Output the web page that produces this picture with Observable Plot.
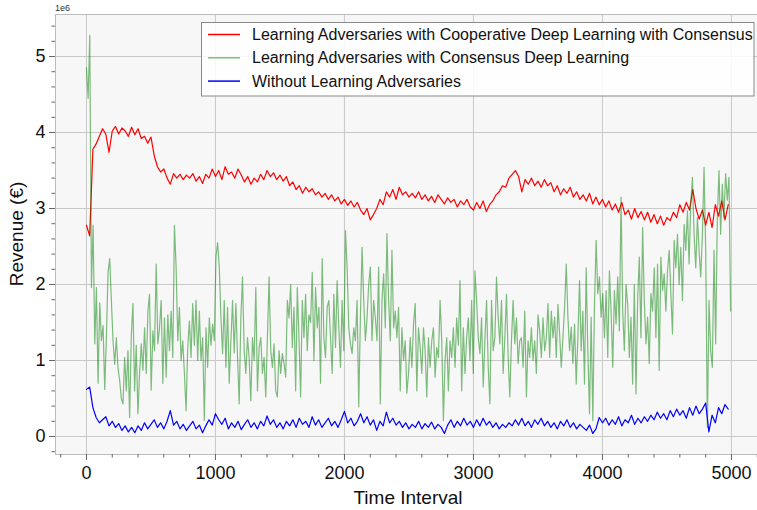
<!DOCTYPE html>
<html>
<head>
<meta charset="utf-8">
<script src="https://cdn.jsdelivr.net/npm/d3@7"></script>
<script src="https://cdn.jsdelivr.net/npm/@observablehq/plot@0.6"></script>
<style>
  html, body { margin: 0; padding: 0; background: white; }
  #chart { width: 757px; height: 510px; }
</style>
</head>
<body>
<div id="chart"></div>
<script>
// Series names (legend order)
const seriesNames = [
  "Learning Adversaries with Cooperative Deep Learning with Consensus",
  "Learning Adversaries with Consensus Deep Learning",
  "Without Learning Adversaries"
];
const seriesColors = ["#ff0000", "#008000", "#0000ff"];

// Time steps for red and blue: every 25 intervals
const stepRB = 25;
// Green is read more densely
const stepG = 12.87;

// Revenue, in units of 1e6 €
const redValues = [
  2.78, 2.64, 3.78, 3.85, 3.95, 4.05, 3.98, 3.74, 4.02, 4.08, 3.98, 4.06, 4.02, 3.95, 4.07, 3.97, 4.05, 3.92, 3.95, 3.86,
  3.94, 3.70, 3.55, 3.48, 3.52, 3.40, 3.32, 3.46, 3.40, 3.45, 3.38, 3.44, 3.40, 3.46, 3.36, 3.42, 3.33, 3.45, 3.40, 3.52,
  3.42, 3.50, 3.38, 3.55, 3.45, 3.48, 3.40, 3.52, 3.44, 3.35, 3.42, 3.32, 3.40, 3.35, 3.45, 3.38, 3.50, 3.42, 3.47, 3.38,
  3.44, 3.36, 3.42, 3.30, 3.35, 3.25, 3.30, 3.20, 3.28, 3.22, 3.26, 3.18, 3.22, 3.15, 3.20, 3.12, 3.18, 3.10, 3.15, 3.06,
  3.12, 3.04, 3.10, 3.02, 3.08, 2.98, 2.92, 3.00, 2.85, 2.92, 3.00, 3.12, 3.05, 3.22, 3.15, 3.25, 3.12, 3.28, 3.18, 3.22,
  3.15, 3.20, 3.14, 3.22, 3.12, 3.18, 3.10, 3.16, 3.08, 3.18, 3.12, 3.06, 3.14, 3.08, 3.12, 3.02, 3.10, 3.05, 3.12, 3.02,
  2.98, 3.08, 3.00, 3.10, 2.96, 3.05, 3.10, 3.18, 3.22, 3.30, 3.28, 3.40, 3.45, 3.50, 3.42, 3.22, 3.38, 3.32, 3.40, 3.30,
  3.36, 3.28, 3.38, 3.30, 3.34, 3.22, 3.30, 3.18, 3.26, 3.20, 3.28, 3.15, 3.22, 3.12, 3.18, 3.10, 3.20, 3.06, 3.15, 3.05,
  3.12, 3.02, 3.10, 2.98, 3.06, 2.95, 3.08, 2.92, 2.98, 2.86, 3.00, 2.88, 2.96, 2.85, 2.95, 2.82, 2.92, 2.80, 2.90, 2.78,
  2.88, 2.84, 2.95, 2.88, 3.05, 2.95, 3.08, 2.98, 3.25, 3.00, 2.86, 2.98, 2.78, 2.95, 2.75, 3.05, 2.90, 3.10, 2.85, 3.05
];

const blueValues = [
  0.62, 0.65, 0.38, 0.25, 0.18, 0.22, 0.26, 0.14, 0.20, 0.12, 0.17, 0.08, 0.14, 0.06, 0.12, 0.05, 0.14, 0.08, 0.18, 0.10,
  0.16, 0.22, 0.12, 0.18, 0.10, 0.20, 0.34, 0.15, 0.20, 0.10, 0.16, 0.08, 0.14, 0.20, 0.10, 0.15, 0.05, 0.14, 0.22, 0.15,
  0.30, 0.22, 0.16, 0.24, 0.10, 0.18, 0.12, 0.20, 0.09, 0.16, 0.22, 0.12, 0.18, 0.10, 0.20, 0.14, 0.27, 0.16, 0.22, 0.12,
  0.18, 0.10, 0.20, 0.14, 0.22, 0.12, 0.24, 0.16, 0.20, 0.12, 0.26, 0.15, 0.22, 0.12, 0.18, 0.24, 0.14, 0.20, 0.12, 0.22,
  0.33, 0.18, 0.24, 0.14, 0.20, 0.30, 0.18, 0.26, 0.15, 0.22, 0.08, 0.20, 0.14, 0.32, 0.18, 0.24, 0.15, 0.20, 0.12, 0.18,
  0.10, 0.16, 0.12, 0.20, 0.10, 0.17, 0.12, 0.19, 0.10, 0.16, 0.12, 0.04, 0.15, 0.22, 0.12, 0.20, 0.14, 0.24, 0.15, 0.20,
  0.12, 0.22, 0.14, 0.24, 0.15, 0.20, 0.12, 0.18, 0.10, 0.16, 0.12, 0.18, 0.14, 0.22, 0.15, 0.24, 0.14, 0.20, 0.12, 0.22,
  0.16, 0.24, 0.14, 0.20, 0.12, 0.18, 0.10, 0.20, 0.14, 0.22, 0.12, 0.18, 0.10, 0.16, 0.12, 0.08, 0.15, 0.04, 0.10, 0.25,
  0.18, 0.24, 0.15, 0.22, 0.16, 0.26, 0.14, 0.22, 0.18, 0.28, 0.16, 0.24, 0.18, 0.26, 0.20, 0.28, 0.22, 0.32, 0.24, 0.30,
  0.22, 0.34, 0.26, 0.36, 0.28, 0.34, 0.24, 0.38, 0.28, 0.40, 0.30, 0.36, 0.44, 0.06, 0.28, 0.18, 0.38, 0.30, 0.42, 0.36
];

const greenValues = [
  4.85, 4.45, 5.28, 1.96, 2.78, 1.22, 1.96, 0.70, 1.76, 1.26,
  1.46, 0.62, 1.30, 2.16, 2.34, 1.79, 1.26, 0.95, 1.30, 0.90,
  0.74, 0.50, 0.43, 1.04, 0.60, 1.13, 0.25, 1.32, 1.75, 0.60,
  1.20, 0.30, 0.83, 1.22, 0.87, 1.43, 0.83, 1.65, 1.87, 0.61,
  1.39, 1.13, 2.27, 1.22, 1.43, 1.79, 0.70, 1.56, 0.78, 1.60,
  1.13, 1.65, 1.04, 2.78, 2.23, 1.26, 1.70, 1.00, 1.26, 0.83,
  0.34, 1.17, 1.52, 1.04, 1.75, 1.20, 1.79, 1.00, 1.65, 1.00,
  1.30, 0.21, 1.43, 0.91, 1.56, 1.20, 1.48, 1.26, 2.36, 2.55,
  2.23, 1.56, 1.09, 1.79, 0.91, 1.70, 0.70, 1.26, 1.79, 1.10,
  1.75, 1.04, 0.43, 1.56, 2.10, 1.13, 0.83, 1.30, 1.04, 0.47,
  1.30, 1.00, 1.96, 0.60, 1.17, 1.30, 0.83, 1.04, 0.52, 1.30,
  2.10, 1.13, 0.91, 1.22, 0.60, 0.52, 1.13, 0.83, 1.09, 0.96,
  0.78, 1.79, 1.56, 2.00, 1.17, 1.70, 0.60, 1.96, 1.30, 0.52,
  1.79, 1.30, 1.87, 1.13, 1.60,
  1.50, 2.16, 1.00, 1.96, 1.43, 1.70, 0.70, 2.34, 1.30, 1.04,
  1.70, 1.79, 1.30, 0.83, 1.87, 1.17, 2.05, 1.43, 0.91, 1.79,
  1.13, 2.71, 2.23, 1.43, 1.22, 1.09, 1.43, 1.26, 1.79, 0.39,
  1.56, 2.49, 1.79, 1.26, 1.56, 2.00, 2.23, 1.26, 1.79, 1.56,
  1.26, 2.23, 0.43, 1.79, 2.14, 1.43, 2.67, 1.79, 1.26, 2.45,
  1.43, 1.65, 1.30, 1.70, 0.60, 1.43, 1.00, 1.26, 0.57, 0.83,
  1.30, 0.91, 1.48, 1.75, 0.60, 1.43, 1.17, 0.83, 1.43, 1.13,
  0.52, 1.30, 0.91, 1.26, 1.43, 0.78, 1.17, 1.04, 1.79, 1.26,
  0.21, 1.00, 1.30, 0.60, 1.26, 1.04, 1.43, 0.91, 1.56, 1.20,
  2.05, 0.60, 1.43, 0.83, 1.30, 1.56, 1.00, 1.79, 0.83, 2.18,
  1.79, 1.30, 1.09, 1.56, 0.65, 1.26, 1.79, 0.91, 0.43, 1.79,
  1.13, 1.30, 2.10, 1.56, 1.22, 1.79, 0.83, 1.30, 1.87, 1.04,
  0.52, 1.26, 1.79, 1.22, 1.56, 0.96, 1.26, 1.30, 0.91, 1.65,
  0.52, 1.26, 1.04, 1.43, 1.00, 1.26, 0.83, 1.60, 1.39, 1.04,
  1.56, 1.13, 1.30, 1.75,
  1.04, 1.65, 1.30, 1.57, 1.04, 1.74, 1.35, 0.91, 1.30, 1.70,
  2.27, 1.57, 1.13, 1.44, 0.96, 1.48, 0.69, 1.30, 2.05, 1.13,
  1.65, 0.69, 2.22, 1.13, 0.30, 1.57, 0.21, 1.74, 2.58, 1.88,
  2.10, 1.57, 1.88, 1.30, 1.92, 1.04, 2.18, 1.65, 0.91, 1.92,
  1.48, 2.10, 1.39, 3.15, 1.65, 1.13, 2.00, 1.74, 1.04, 1.57,
  0.69, 2.00, 0.56, 1.79, 2.36, 1.30, 2.75, 1.79, 1.22, 1.57,
  0.96, 1.88, 1.65, 2.22, 1.30, 2.27, 0.87, 2.36, 1.92, 2.14,
  1.65, 2.18, 2.45, 1.88, 1.35, 2.58, 2.22, 2.66, 2.00, 2.49,
  1.79, 2.79, 2.45, 2.97, 2.27, 3.06, 3.41, 2.66, 2.22, 2.88,
  2.45, 2.10, 2.66, 3.54, 2.45, 0.12, 1.79, 1.13, 0.91, 2.45,
  1.22, 2.88, 3.50, 2.66, 3.32, 2.88, 3.46, 3.11, 3.41, 1.65
];

// Tick labels
const xTicks = [0, 1000, 2000, 3000, 4000, 5000];
const xMinorTicks = [-200, 200, 400, 600, 800, 1200, 1400, 1600, 1800, 2200, 2400, 2600, 2800, 3200, 3400, 3600, 3800, 4200, 4400, 4600, 4800, 5200];
const yTicks = [0, 1, 2, 3, 4, 5];
const yMinorTicks = [-0.2, 0.2, 0.4, 0.6, 0.8, 1.2, 1.4, 1.6, 1.8, 2.2, 2.4, 2.6, 2.8, 3.2, 3.4, 3.6, 3.8, 4.2, 4.4, 4.6, 4.8, 5.2, 5.4];

const xDomain = [-240, 5202];
const yDomain = [-0.237, 5.553];

const redRows = redValues.map((v, i) => ({t: i * stepRB, v}));
const blueRows = blueValues.map((v, i) => ({t: i * stepRB, v}));
const greenRows = greenValues.map((v, i) => ({t: i * stepG, v}));

const gridColor = "#c9c9c9";
const frameColor = "#bdbdbd";
const plain = d => String(d);

const svg = Plot.plot({
  width: 757,
  height: 510,
  marginLeft: 55,
  marginRight: 0,
  marginTop: 14,
  marginBottom: 56,
  style: {fontFamily: "'Liberation Sans', Arial, sans-serif", background: "white", color: "#111"},
  x: {domain: xDomain},
  y: {domain: yDomain},
  marks: [
    Plot.frame({fill: "#f7f7f7", stroke: null}),
    Plot.gridX(xTicks, {stroke: gridColor, strokeOpacity: 1, strokeWidth: 1}),
    Plot.gridY(yTicks, {stroke: gridColor, strokeOpacity: 1, strokeWidth: 1}),
    Plot.ruleX([xDomain[0]], {stroke: frameColor, strokeWidth: 1}),
    Plot.ruleY([yDomain[1]], {stroke: frameColor, strokeWidth: 1}),
    Plot.ruleY([yDomain[0]], {stroke: frameColor, strokeWidth: 1}),
    Plot.line(redRows, {x: "t", y: "v", stroke: seriesColors[0], strokeWidth: 1.2}),
    Plot.line(greenRows, {x: "t", y: "v", stroke: seriesColors[1], strokeOpacity: 0.5, strokeWidth: 1.2}),
    Plot.line(blueRows, {x: "t", y: "v", stroke: seriesColors[2], strokeWidth: 1.2}),
    Plot.axisX(xTicks, {tickSize: 6, tickPadding: 6, fontSize: 18, tickFormat: plain, label: null, stroke: "#666", fill: "#111"}),
    Plot.axisX(xMinorTicks, {tickSize: 3.5, tickFormat: () => "", label: null, stroke: "#666"}),
    Plot.axisY(yTicks, {tickSize: 6, tickPadding: 4, fontSize: 18, tickFormat: plain, label: null, stroke: "#666", fill: "#111"}),
    Plot.axisY(yMinorTicks, {tickSize: 3.5, tickFormat: () => "", label: null, stroke: "#666"})
  ]
});

document.getElementById("chart").appendChild(svg);

const s = d3.select(svg);
const font = "'Liberation Sans', Arial, sans-serif";

// offset label
s.append("text").attr("x", 55).attr("y", 11).attr("text-anchor", "start")
  .attr("font-size", 9).attr("font-family", font).attr("fill", "#333").text("1e6");

// axis titles
s.append("text").attr("transform", "translate(16,234) rotate(-90)")
  .attr("text-anchor", "middle").attr("dominant-baseline", "central")
  .attr("font-size", 19).attr("font-family", font).attr("fill", "#111").text("Revenue (€)");
s.append("text").attr("x", 408).attr("y", 497)
  .attr("text-anchor", "middle").attr("dominant-baseline", "central")
  .attr("font-size", 19).attr("font-family", font).attr("fill", "#111").text("Time Interval");

// legend
const lg = s.append("g");
lg.append("rect").attr("x", 201.5).attr("y", 22.5).attr("width", 552.5).attr("height", 73.5)
  .attr("fill", "white").attr("fill-opacity", 0.85).attr("stroke", "#8a8a8a").attr("stroke-width", 1);
seriesNames.forEach((name, i) => {
  const y = 34.5 + i * 23.3;
  lg.append("line").attr("x1", 208).attr("x2", 240).attr("y1", y).attr("y2", y)
    .attr("stroke", seriesColors[i]).attr("stroke-opacity", i === 1 ? 0.5 : 1).attr("stroke-width", 1.5);
  lg.append("text").attr("x", 252).attr("y", y).attr("text-anchor", "start").attr("dominant-baseline", "central")
    .attr("font-size", 16).attr("font-family", font).attr("fill", "#111").text(name);
});
</script>
</body>
</html>
